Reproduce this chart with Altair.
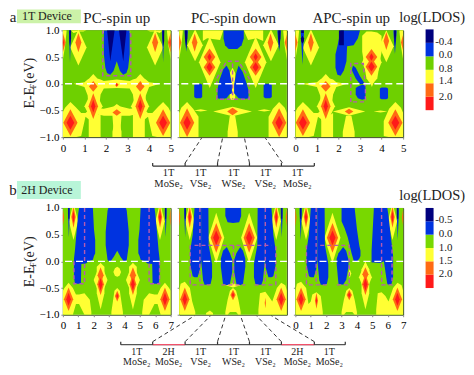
import altair as alt
import pandas as pd

SERIF = "Liberation Serif"
LEVELS = ["Y", "O", "R", "B", "N"]
LEVEL_COLORS = ["#ffff33", "#ff6a13", "#ff1a1a", "#0033e0", "#00007e"]
GREEN = "#6ed000"
GREEN2 = "#78d800"

# ---------- each panel: diamonds (level, x, y, half-width, half-height) and outlined regions
P1_D = [
 ("O",0,.77,.13,.18),("R",0,.77,.05,.08),("Y",.72,.68,.38,.34),("O",.72,.77,.14,.18),
 ("O",5,.77,.13,.18),("R",5,.77,.05,.08),("Y",4.28,.68,.38,.34),("O",4.28,.77,.14,.18),
 ("Y",1.42,-.42,.42,.34),("Y",3.58,-.42,.42,.34),
 ("O",1.41,-.05,.2,.1),("O",3.59,-.05,.2,.1),("O",1.41,-.42,.22,.24),("O",3.59,-.42,.22,.24),
 ("R",1.41,-.42,.1,.12),("R",3.59,-.42,.1,.12),("R",2.5,-.02,.04,.03),("O",2.5,-.02,.09,.04),
 ("O",2.5,-.54,.2,.06),
 ("O",.35,-.73,.33,.25),("R",.35,-.73,.18,.13),("O",4.65,-.73,.33,.25),("R",4.65,-.73,.18,.13),
]
P1_A = [
 ("Y",[(0,.45,1),(.1,.7,1),(.17,.98,1)]),
 ("Y",[(.36,1,1),(.5,.95,1),(.72,.98,1),(.95,.98,1),(1.1,1,1)]),
 ("Y",[(3.9,1,1),(4.05,.98,1),(4.28,.98,1),(4.5,.95,1),(4.64,1,1)]),
 ("Y",[(4.83,.98,1),(4.9,.7,1),(5,.45,1)]),
 ("Y",[(1.88,.95,1),(3.12,.95,1)]),
 ("Y",[(.5,0,0),(1.0,-.06,.03),(1.15,-.22,.08),(1.22,-.7,.1),(1.41,-.75,.18),(1.6,-.7,.1),(1.75,-.2,.08),(1.9,-.09,.05),(2.5,-.08,.08),(3.1,-.09,.05),(3.25,-.2,.08),(3.4,-.7,.1),(3.59,-.75,.18),(3.78,-.7,.1),(3.85,-.22,.08),(4.0,-.06,.03),(4.5,0,0)]),
 ("Y",[(0,-1,-.53),(.1,-1,-.45),(.35,-1,-.34),(.6,-1,-.44),(.85,-.98,-.55),(1.05,-.62,-.55),(1.3,-.7,-.46)]),
 ("Y",[(1.2,-1,-.55),(1.3,-1,-.62),(1.5,-1,-.62),(1.75,-1,-.55)]),
 ("Y",[(3.25,-1,-.55),(3.5,-1,-.62),(3.7,-1,-.62),(3.8,-1,-.55)]),
 ("Y",[(1.6,-.57,-.46),(1.9,-.6,-.47),(2.3,-.6,-.43),(2.37,-1,-.42),(2.5,-1,-.38),(2.65,-1,-.42),(2.72,-.6,-.43),(3.1,-.6,-.47),(3.4,-.57,-.46)]),
 ("Y",[(2.3,-1,-.9),(2.4,-1,-.7),(2.62,-1,-.7),(2.72,-1,-.9)]),
 ("Y",[(3.7,-.7,-.46),(3.95,-.62,-.55),(4.15,-.98,-.55),(4.4,-1,-.44),(4.65,-1,-.34),(4.9,-1,-.45),(5,-1,-.53)]),
 ("B",[(.28,.98,1),(.33,.4,1),(.38,.98,1)]),("N",[(.3,.8,1),(.33,.7,1),(.38,.85,1)]),
 ("B",[(4.6,.98,1),(4.65,.4,1),(4.7,.98,1)]),("N",[(4.62,.85,1),(4.65,.7,1),(4.7,.8,1)]),
 ("B",[(1.9,.55,1),(1.97,.3,1),(2.05,.2,1),(2.2,.17,1),(2.35,.24,1),(2.5,.42,1),(2.65,.24,1),(2.8,.17,1),(2.95,.2,1),(3.03,.3,1),(3.1,.55,1)]),
 ("N",[(2.05,1,1),(2.2,.42,1),(2.4,1,1)]),("N",[(2.6,1,1),(2.8,.42,1),(2.95,1,1)]),
]
P1_L = [[(1.85,1),(1.85,.15),(3.15,.15),(3.15,1)]]

P2_D = [
 ("O",0,.77,.1,.15),("Y",.74,.72,.36,.3),("O",.72,.77,.13,.17),
 ("O",5,.77,.1,.15),("Y",4.26,.72,.36,.3),("O",4.24,.77,.13,.17),
 ("Y",1.42,.4,.5,.48),("Y",3.55,.4,.5,.48),
 ("O",1.41,.5,.27,.16),("O",1.41,.31,.27,.16),("O",3.55,.5,.27,.16),("O",3.55,.31,.27,.16),
 ("R",1.41,.5,.1,.07),("R",1.41,.31,.14,.09),("R",3.55,.5,.1,.07),("R",3.55,.31,.14,.09),
 ("Y",2.48,-.52,.9,.09),("O",2.48,-.52,.25,.07),
 ("O",.37,-.73,.33,.27),("R",.37,-.73,.17,.13),("O",4.64,-.73,.33,.27),("R",4.64,-.73,.17,.13),
 ("Y",1.0,-.5,.32,.02),("Y",3.95,-.5,.32,.02),
]
P2_A = [
 ("Y",[(0,.45,1),(.1,.7,1),(.17,.98,1)]),
 ("Y",[(4.83,.98,1),(4.9,.7,1),(5,.45,1)]),
 ("Y",[(1.1,.8,1),(1.3,.85,1),(1.9,.82,1),(2.05,1,1)]),
 ("Y",[(3.0,1,1),(3.2,.82,1),(3.6,.85,1),(3.9,.8,1)]),
 ("Y",[(2.35,-.3,.2),(2.48,-.3,.3),(2.6,-.3,.2)]),
 ("Y",[(0,-1,-.55),(.1,-1,-.45),(.37,-1,-.34),(.65,-1,-.47),(.9,-1,-.62)]),
 ("Y",[(4.15,-1,-.62),(4.35,-1,-.47),(4.64,-1,-.34),(4.9,-1,-.45),(5,-1,-.55)]),
 ("Y",[(2.25,-1,-.9),(2.35,-1,-.6),(2.6,-1,-.6),(2.72,-1,-.9)]),
 ("B",[(.25,.97,1),(.33,.6,1),(.4,.97,1)]),("N",[(.27,.85,1),(.33,.65,1),(.38,.85,1)]),
 ("B",[(4.56,.97,1),(4.64,.6,1),(4.72,.97,1)]),("N",[(4.6,.85,1),(4.64,.65,1),(4.7,.85,1)]),
 ("B",[(2.06,.85,1),(2.13,.72,1),(2.3,.65,1),(2.7,.65,1),(2.9,.72,1),(3.0,.85,1)]),
 ("B",[(1.78,-.27,-.1),(1.88,-.28,.08),(2.05,-.28,.27),(2.2,-.27,.34),(2.33,-.2,.25),(2.45,-.18,0)]),
 ("B",[(2.55,-.18,-.02),(2.65,-.22,.2),(2.76,-.27,.34),(2.95,-.28,.22),(3.12,-.28,.02),(3.22,-.27,-.12)]),
 ("B",[(.7,-.25,-.02),(.78,-.27,.0),(1.0,-.27,.0),(1.07,-.25,-.02)]),
 ("B",[(3.92,-.25,-.02),(4.0,-.27,.0),(4.22,-.27,.0),(4.3,-.25,-.02)]),
]
P2_L = [[(1.75,.1),(2.2,.42),(2.75,.42),(3.25,.1),(3.25,-.29),(1.75,-.29),(1.75,.1)],[(2.48,.38),(2.48,-.29)]]

P3_D = [
 ("O",0,.77,.1,.15),("Y",.72,.68,.38,.34),("O",.72,.77,.13,.18),
 ("O",5,.77,.1,.15),("Y",4.22,.7,.34,.3),("O",4.22,.8,.13,.17),
 ("Y",3.55,.4,.45,.46),("O",3.53,.5,.27,.15),("O",3.53,.32,.27,.17),("R",3.53,.5,.1,.07),("R",3.53,.32,.15,.09),
 ("O",1.41,-.05,.22,.1),("O",1.41,-.42,.22,.24),("R",1.41,-.42,.1,.12),("Y",1.42,-.42,.42,.34),
 ("O",2.49,-.52,.2,.05),("Y",2.49,-.52,.75,.08),
 ("O",.35,-.73,.33,.25),("R",.35,-.73,.18,.13),("O",4.64,-.73,.33,.25),("R",4.64,-.73,.18,.13),
 ("Y",3.95,-.52,.32,.02),
]
P3_A = [
 ("Y",[(0,.45,1),(.1,.7,1),(.17,.98,1)]),("Y",[(4.83,.98,1),(4.9,.7,1),(5,.45,1)]),
 ("Y",[(3.1,.6,.9),(3.3,.1,.98),(3.53,-.03,.98),(3.8,.1,.96),(4.0,.6,.9)]),
 ("Y",[(.3,0,0),(1.0,-.06,.03),(1.15,-.22,.08),(1.22,-.7,.1),(1.41,-.75,.18),(1.6,-.7,.1),(1.75,-.2,.08),(1.9,-.06,.03),(2.4,0,0)]),
 ("Y",[(0,-1,-.53),(.1,-1,-.45),(.35,-1,-.34),(.6,-1,-.44),(.85,-.98,-.55),(1.05,-.62,-.55),(1.3,-.7,-.46)]),
 ("Y",[(1.2,-1,-.55),(1.3,-1,-.62),(1.5,-1,-.62),(1.75,-1,-.55)]),
 ("Y",[(2.2,-1,-.9),(2.35,-1,-.6),(2.6,-1,-.6),(2.75,-1,-.9)]),
 ("Y",[(4.1,-.98,-.7),(4.35,-1,-.47),(4.64,-1,-.34),(4.9,-1,-.45),(5,-1,-.55)]),
 ("B",[(.25,.97,1),(.33,.35,1),(.4,.97,1)]),("N",[(.26,.8,.85),(.33,.75,.9),(.4,.8,.85)]),("N",[(.27,.95,1),(.39,.95,1)]),
 ("B",[(4.55,.97,1),(4.62,.55,1),(4.7,.97,1)]),("N",[(4.58,.9,1),(4.62,.7,1),(4.67,.9,1)]),
 ("B",[(1.86,.3,.55),(1.95,.17,.7),(2.1,.15,1),(2.25,.25,1),(2.37,.42,1),(2.4,.7,1),(2.7,.72,1),(2.9,.85,1),(3.0,1,1)]),
 ("N",[(2.02,.72,1),(2.25,.72,1)]),
 ("B",[(2.63,.25,.28),(2.68,.2,.34),(2.8,.1,.3),(3.0,-.01,.14),(3.19,.0,.02)]),
 ("B",[(2.8,-.2,-.08),(2.9,-.27,-.05),(3.1,-.3,-.02),(3.25,-.28,-.03)]),
 ("B",[(3.92,-.27,-.09),(4.0,-.29,-.07),(4.22,-.29,-.07),(4.3,-.27,-.09)]),
]
P3_L = [[(2.57,-.34),(2.57,.38),(3.15,.38),(3.25,-.1),(3.25,-.34),(2.57,-.34)]]

P4_D = [
 ("O",0,.82,.08,.16),("Y",.69,.75,.3,.35),("O",.69,.83,.14,.2),("R",.69,.83,.07,.12),
 ("O",7,.82,.08,.16),("Y",6.31,.75,.3,.35),("O",6.31,.83,.14,.2),("R",6.31,.83,.07,.12),
 ("O",.37,-.71,.3,.22),("R",.37,-.71,.15,.12),("O",6.63,-.71,.3,.22),("R",6.63,-.71,.15,.12),
 ("O",2.45,-.26,.2,.15),("O",2.45,-.43,.22,.2),("R",2.45,-.43,.12,.12),
 ("O",4.55,-.26,.2,.15),("O",4.55,-.43,.22,.2),("R",4.55,-.43,.12,.12),
 ("Y",2.45,-.35,.45,.33),("Y",4.55,-.35,.45,.33),
 ("O",3.53,-.65,.15,.1),("R",3.53,-.65,.06,.05),
]
P4_A = [
 ("Y",[(2.2,-.6,-.1),(2.45,-.9,-.03),(2.7,-.6,-.1)]),
 ("Y",[(4.3,-.6,-.1),(4.55,-.9,-.03),(4.8,-.6,-.1)]),
 ("Y",[(3.28,-.2,-.2),(3.38,-.27,-.13),(3.53,-.29,-.1),(3.68,-.27,-.13),(3.78,-.2,-.2)]),
 ("Y",[(3.15,-1,-.95),(3.25,-1,-.75),(3.35,-1,-.55),(3.53,-1,-.5),(3.7,-1,-.55),(3.8,-1,-.75),(3.9,-1,-.95)]),
 ("Y",[(0,-1,-.55),(.1,-1,-.5),(.37,-1,-.4),(.65,-1,-.5),(.85,-.8,-.62),(1.05,-.8,-.62),(1.4,-1,-.6),(1.75,-1,-.72),(1.85,-1,-.95)]),
 ("Y",[(5.15,-1,-.95),(5.25,-1,-.72),(5.6,-1,-.6),(5.95,-.8,-.62),(6.15,-.8,-.62),(6.35,-1,-.5),(6.63,-1,-.4),(6.9,-1,-.5),(7,-1,-.55)]),
 ("B",[(.33,.9,1),(.39,.45,1),(.45,.9,1)]),("B",[(6.62,.9,1),(6.68,.45,1),(6.74,.9,1)]),
 ("N",[(.36,.8,1),(.42,.8,1)]),("N",[(6.65,.8,1),(6.71,.8,1)]),
 ("B",[(.72,-.3,.05),(.78,-.42,.2),(.87,-.42,.5),(1.0,-.42,.9),(1.05,-.42,1),(1.17,-.42,1),(1.2,-.05,1),(1.5,-.04,1),(1.68,.0,1),(1.95,.03,1),(2.02,.1,.6),(2.1,.15,.4)]),
 ("B",[(2.78,.3,.55),(2.9,.03,.95),(2.95,.01,1),(3.1,.0,1),(3.3,.08,1),(3.53,.2,1),(3.75,.08,1),(3.95,.0,1),(4.1,.01,1),(4.15,.03,.95),(4.28,.3,.55)]),
 ("B",[(4.9,.15,.4),(4.98,.1,.6),(5.05,.03,1),(5.32,.0,1),(5.5,-.04,1),(5.8,-.05,1),(5.83,-.42,1),(5.95,-.42,1),(6.0,-.42,.9),(6.13,-.42,.5),(6.22,-.42,.2),(6.28,-.3,.05)]),
]
P4_L = [[(.72,0),(.72,-.42),(1.41,-.42),(1.41,1)],[(5.6,1),(5.6,-.42),(6.28,-.42),(6.28,0)]]

P5_D = [
 ("O",0,.82,.08,.16),("Y",.69,.75,.3,.35),("O",.69,.83,.14,.2),("R",.69,.83,.07,.12),
 ("O",7,.82,.08,.16),("Y",6.31,.75,.3,.35),("O",6.31,.83,.14,.2),("R",6.31,.83,.07,.12),
 ("Y",2.41,.44,.52,.47),("O",2.41,.44,.36,.28),("R",2.41,.44,.2,.14),
 ("Y",4.55,.44,.52,.47),("O",4.55,.44,.36,.28),("R",4.55,.44,.2,.14),
 ("O",.37,-.71,.3,.22),("R",.37,-.71,.15,.12),("O",6.63,-.71,.3,.22),("R",6.63,-.71,.15,.12),
 ("O",3.5,-.63,.17,.1),("R",3.5,-.63,.08,.05),("Y",3.5,-.45,.5,.04),
 ("O",5.6,-.78,.04,.1),
]
P5_A = [
 ("Y",[(0,-1,-.55),(.1,-1,-.42),(.37,-1,-.38),(.7,-1,-.5),(.85,-1,-.75),(1.05,-1,-.95)]),
 ("Y",[(1.75,-1,-.97),(2.0,-1,-.92),(2.2,-1,-.97)]),
 ("Y",[(3.0,-1,-.95),(3.15,-1,-.72),(3.3,-.95,-.55),(3.5,-.95,-.5),(3.7,-.95,-.55),(3.85,-1,-.72),(4.0,-1,-.95)]),
 ("Y",[(5.15,-1,-.9),(5.25,-1,-.6),(5.6,-1,-.57),(5.85,-1,-.67),(6.05,-1,-.75),(6.35,-1,-.5),(6.63,-1,-.4),(6.9,-1,-.45),(7,-1,-.55)]),
 ("B",[(.33,.9,1),(.39,.45,1),(.45,.9,1)]),("B",[(6.6,.9,1),(6.67,.45,1),(6.73,.9,1)]),
 ("N",[(.36,.8,1),(.42,.8,1)]),("N",[(6.64,.8,1),(6.7,.8,1)]),
 ("B",[(.72,-.05,.2),(.88,-.28,.5),(1.0,-.3,1),(1.2,-.3,1),(1.35,-.15,1),(1.43,.02,1)]),
 ("B",[(1.43,.02,1),(1.55,-.35,1),(1.65,-.44,1),(1.9,-.44,1),(1.92,-.44,.3),(2.05,-.42,.1),(2.14,-.3,-.05)]),
 ("B",[(4.86,-.3,-.05),(4.95,-.42,.1),(5.08,-.44,.3),(5.1,-.44,1),(5.35,-.44,1),(5.45,-.35,1),(5.57,.02,1)]),
 ("B",[(5.57,.02,1),(5.65,-.15,1),(5.8,-.3,1),(6.0,-.3,1),(6.12,-.28,.5),(6.28,-.05,.2)]),
 ("B",[(3.0,.85,1),(3.15,.73,1),(3.5,.72,1),(3.9,.73,1),(4.03,.85,1)]),
 ("B",[(2.71,-.1,.05),(2.85,-.42,.2),(3.1,-.45,.27),(3.3,-.42,.15),(3.45,-.2,.03)]),
 ("B",[(3.58,-.2,.03),(3.72,-.42,.15),(3.97,-.45,.27),(4.15,-.42,.2),(4.3,-.1,.05)]),
]
P5_L = [[(.72,.3),(.72,-.44),(2.1,-.44)],[(1.35,1),(1.35,-.44)],[(2.75,-.44),(4.3,-.44)],[(3.53,.3),(3.53,-.44)],
        [(1.0,.3),(2.0,.3),(5.0,.3),(6.0,.3)],[(5.6,1),(5.6,-.44)],[(4.9,-.44),(6.28,-.44),(6.28,.3)]]

P6_D = [
 ("O",0,.82,.08,.16),("Y",.69,.75,.3,.35),("O",.69,.83,.14,.2),("R",.69,.83,.07,.12),
 ("O",7,.82,.08,.16),("Y",6.31,.75,.3,.35),("O",6.31,.83,.14,.2),("R",6.31,.83,.07,.12),
 ("Y",2.41,.44,.52,.47),("O",2.41,.44,.36,.28),("R",2.41,.44,.2,.14),
 ("O",.37,-.71,.3,.22),("R",.37,-.71,.15,.12),("O",6.63,-.71,.3,.22),("R",6.63,-.71,.15,.12),
 ("O",1.37,-.74,.1,.15),("R",1.37,-.74,.04,.08),
 ("O",3.5,-.63,.17,.1),("R",3.5,-.63,.08,.05),
 ("Y",4.55,-.3,.42,.3),("O",4.55,-.24,.2,.13),("O",4.55,-.43,.22,.2),("R",4.55,-.43,.12,.12),
 ("Y",3.53,-.23,.1,.08),
]
P6_A = [
 ("Y",[(0,-1,-.55),(.1,-1,-.42),(.37,-1,-.38),(.7,-1,-.5),(.85,-1,-.8),(1.0,-1,-.75),(1.1,-1,-.62),(1.37,-1,-.58),(1.65,-1,-.65),(1.78,-1,-.95)]),
 ("Y",[(3.0,-1,-.95),(3.15,-1,-.72),(3.3,-.95,-.55),(3.5,-.95,-.5),(3.7,-.95,-.55),(3.85,-1,-.72),(4.0,-1,-.95)]),
 ("Y",[(4.3,-.6,-.15),(4.55,-.9,-.02),(4.8,-.6,-.15)]),
 ("Y",[(5.25,-1,-.9),(5.35,-1,-.6),(5.6,-1,-.58),(5.85,-1,-.65),(6.05,-1,-.75),(6.35,-1,-.5),(6.63,-1,-.4),(6.9,-1,-.45),(7,-1,-.55)]),
 ("B",[(.27,.9,1),(.35,.4,1),(.42,.9,1)]),("B",[(6.58,.9,1),(6.65,.4,1),(6.72,.9,1)]),
 ("N",[(.32,.8,1),(.38,.8,1)]),("N",[(6.62,.8,1),(6.68,.8,1)]),
 ("B",[(.72,-.05,.2),(.88,-.28,.5),(1.0,-.3,1),(1.2,-.3,1),(1.35,-.15,1),(1.43,.02,1)]),
 ("B",[(1.43,.02,1),(1.55,-.35,1),(1.65,-.44,1),(1.9,-.44,1),(1.92,-.44,.3),(2.05,-.42,.1),(2.14,-.3,-.05)]),
 ("B",[(3.0,.75,1),(3.2,.62,1),(3.4,.45,1),(3.65,.15,1),(3.8,.0,1),(3.85,.0,1),(4.0,.0,.6),(4.15,.05,.3),(4.23,.1,.2)]),
 ("B",[(2.68,-.05,.05),(2.8,-.42,.15),(3.1,-.44,.27),(3.3,-.35,.2),(3.45,-.1,.03)]),
 ("B",[(4.95,-.02,.2),(5.1,-.02,1),(5.5,-.03,1),(5.75,.0,1),(5.9,-.3,1),(5.97,-.42,1),(6.03,-.44,.9),(6.25,-.42,.35),(6.35,-.3,.1)]),
]
P6_L = [[(.72,.3),(.72,-.44),(2.1,-.44)],[(1.35,1),(1.35,-.44)],[(2.7,-.44),(3.5,-.44),(3.5,.3),(1.5,.3)],[(5.6,1),(5.6,-.44),(6.28,-.44),(6.28,.3)]]

# ---------- text and schematic, in page coordinates
PAGE_TEXT = [
 ("a",12,16,15),("1T Device",46,15,12),("b",12,189,15),("2H Device",46,189,12),
 ("PC-spin up",116,17,15),("PC-spin down",233,17,15),("APC-spin up",351,17,15),
 ("log(LDOS)",432,17,14.5),("log(LDOS)",432,195,14.5),
 ("B1",224,54,11),("B2",195,293,11),("B3",210,293,11),
 ("1T",168,172,10.5),("MoSe\u2082",168,183,10.5),("1T",200,172,10.5),("VSe\u2082",200,183,10.5),
 ("1T",233,172,10.5),("WSe\u2082",233,183,10.5),("1T",265,172,10.5),("VSe\u2082",265,183,10.5),
 ("1T",297,172,10.5),("MoSe\u2082",297,183,10.5),
 ("1T",136,351,10),("MoSe\u2082",136,361.5,10),("2H",168,351,10),("MoSe\u2082",168,361.5,10),
 ("1T",200,351,10),("VSe\u2082",200,361.5,10),("1T",233,351,10),("WSe\u2082",233,361.5,10),
 ("1T",265,351,10),("VSe\u2082",265,361.5,10),("2H",297,351,10),("MoSe\u2082",297,361.5,10),
 ("1T",329,351,10),("MoSe\u2082",329,361.5,10),
]
ROT_TEXT = [("E-E  (eV)",29,82,14),("E-E  (eV)",29,261,14),("F",33,85,8),("F",33,264,8)]
BOXES = [(16,80,8,22,"#ccf2a8"),(16,80,180,198,"#b8f5d8")]
SOLID = [
 (152,314,165,165,"#333333"),(152,152,162,165,"#333333"),(184.5,184.5,162,165,"#333333"),(217,217,162,165,"#333333"),
 (249,249,162,165,"#333333"),(281,281,162,165,"#333333"),(314,314,162,165,"#333333"),
 (120,345,344,344,"#555555"),(152,184.5,344,344,"#f0506a"),(281,314,344,344,"#f0506a"),
 (120,120,341,344,"#333333"),(152,152,341,344,"#333333"),(184.5,184.5,341,344,"#333333"),(217,217,341,344,"#333333"),
 (249,249,341,344,"#333333"),(281,281,341,344,"#333333"),(314,314,341,344,"#333333"),(345,345,341,344,"#333333"),
]
DASHED = [
 (184.5,201,162,137),(217,222,162,137),(249,244,162,137),(282,265,162,137),
 (152,194,341,315),(184.5,210,341,315),(217,225,341,315),(249,240,341,315),(281,256,341,315),(314,271,341,315),
]

BAND_COLORS = ["#ff1a1a", "#ff6a13", "#ffff33", GREEN, "#0033e0", "#00007e"]
TOP_BAR_LABELS = ["2.0","1.4","0.8","0.0","-0.4"]
TOP_BAR_POS = [.96,2.15,3.03,4.07,5.04]
BOT_BAR_LABELS = ["2.0","1.5","1.0","0.0","-0.5"]
BOT_BAR_POS = [1.05,2.02,3.0,4.05,5.1]

W, H = 108, 107
X0, Y0 = 62, 29

def to_frame(diamonds, areas):
    rows = []
    n = 0
    for lev, cx, cy, hw, hh in diamonds:
        n += 1
        rows += [(lev, n, cx-hw, cy, cy, 0), (lev, n, cx, cy-hh, cy+hh, 1), (lev, n, cx+hw, cy, cy, 2)]
    for lev, pts in areas:
        n += 1
        rows += [(lev, n, p[0], p[1], p[2], i) for i, p in enumerate(pts)]
    df = pd.DataFrame(rows, columns=["level", "id", "x", "lo", "hi", "i"])
    df["rank"] = df["level"].map({k: i for i, k in enumerate(LEVELS)})
    return df.sort_values(["rank", "id", "i"], kind="stable")

def panel(diamonds, areas, lines, xmax, ylabels, xlabels, green, page=False):
    xs = alt.Scale(domain=[0, xmax], nice=False, zero=False)
    ys = alt.Scale(domain=[-1, 1], nice=False, zero=False)
    xax = alt.Axis(values=list(range(xmax+1)), labels=xlabels, ticks=xlabels, title=None, grid=False, domain=False,
                   labelAngle=0, tickSize=2, labelPadding=3, labelFontSize=11, labelFont=SERIF, labelColor="black",
                   labelFlush=False, labelOverlap=False, labelBound=False, labelSeparation=0, format="d")
    yax = alt.Axis(values=[-1,-.5,0,.5,1], labels=ylabels, format=".1f", title=None, grid=False, domain=False,
                   tickSize=2, labelPadding=2, labelFontSize=11, labelFont=SERIF, labelColor="black",
                   labelFlush=False, labelOverlap=False, labelBound=False, labelSeparation=0)
    df = to_frame(diamonds, areas)
    X = lambda f: alt.X(f, scale=xs, axis=xax)
    Y = lambda f: alt.Y(f, scale=ys, axis=yax)
    bg = alt.Chart(pd.DataFrame({"x":[0],"x2":[xmax],"y":[-1],"y2":[1]})).mark_rect(color=green).encode(
        x=X("x:Q"), x2="x2:Q", y=Y("y:Q"), y2="y2:Q")
    area = alt.Chart(df).mark_area(clip=True, opacity=1).encode(
        x=X("x:Q"), y=Y("lo:Q"), y2="hi:Q",
        color=alt.Color("level:N", scale=alt.Scale(domain=LEVELS, range=LEVEL_COLORS), legend=None),
        detail="id:N")
    lrows = [(k, i, x, y) for k, path in enumerate(lines) for i, (x, y) in enumerate(path)]
    ldf = pd.DataFrame(lrows, columns=["k", "i", "x", "y"])
    dash = alt.Chart(ldf).mark_line(color="#b65ab0", strokeWidth=1.4, strokeDash=[4,3], clip=True).encode(
        x=X("x:Q"), y=Y("y:Q"), detail="k:N", order="i:Q")
    zero = alt.Chart(pd.DataFrame({"x":[.02*xmax],"x2":[xmax],"y":[0]})).mark_rule(color="white", strokeWidth=1.3, strokeDash=[7,4]).encode(
        x=X("x:Q"), x2="x2:Q", y=Y("y:Q"))
    base = alt.layer(bg, area, dash, zero)
    if page:
        base = alt.layer(base, *page_layers()).resolve_scale(x="independent", y="independent", color="independent", size="independent")
    return base.properties(width=W, height=H)

def page_layers():
    tdf = pd.DataFrame(PAGE_TEXT, columns=["t","x","y","s"]); tdf["x"] -= X0; tdf["y"] -= Y0
    rdf = pd.DataFrame(ROT_TEXT, columns=["t","x","y","s"]); rdf["x"] -= X0; rdf["y"] -= Y0
    bdf = pd.DataFrame(BOXES, columns=["x","x2","y","y2","c"])
    sdf = pd.DataFrame(SOLID, columns=["x","x2","y","y2","c"])
    ddf = pd.DataFrame(DASHED, columns=["x","x2","y","y2"])
    for d in (bdf, sdf, ddf):
        d["x"] -= X0; d["x2"] -= X0; d["y"] -= Y0; d["y2"] -= Y0
    px = alt.X("x:Q", scale=None, axis=None); py = alt.Y("y:Q", scale=None, axis=None)
    cc = alt.Color("c:N", scale=None, legend=None)
    ss = alt.Size("s:Q", scale=None, legend=None)
    return [
        alt.Chart(bdf).mark_rect().encode(x=px, x2="x2:Q", y=py, y2="y2:Q", color=cc),
        alt.Chart(sdf).mark_rule(strokeWidth=1.2).encode(x=px, x2="x2:Q", y=py, y2="y2:Q", color=cc),
        alt.Chart(ddf).mark_rule(strokeWidth=1, strokeDash=[4,3], color="#333333").encode(x=px, x2="x2:Q", y=py, y2="y2:Q"),
        alt.Chart(tdf).mark_text(font=SERIF, color="#222222", baseline="middle", align="center").encode(
            x=px, y=py, text="t:N", size=ss),
        alt.Chart(rdf).mark_text(font=SERIF, color="#222222", baseline="middle", align="center", angle=270).encode(
            x=px, y=py, text="t:N", size=ss),
    ]

def colorbar(labels, pos, ymin, ymax, bands):
    ys = alt.Scale(domain=[ymin, ymax], nice=False, zero=False)
    bdf = pd.DataFrame({"a": list(range(6)), "b": list(range(1, 7)), "c": bands})
    bar = alt.Chart(bdf).mark_rect().encode(
        x=alt.value(14), x2=alt.value(22), y=alt.Y("a:Q", scale=ys, axis=None), y2="b:Q", color=alt.Color("c:N", scale=None, legend=None))
    txt = alt.Chart(pd.DataFrame({"t": labels, "p": pos})).mark_text(font=SERIF, fontSize=11, color="#222222", align="right", baseline="middle").encode(
        x=alt.value(41), y=alt.Y("p:Q", scale=ys, axis=None), text="t:N")
    return alt.layer(bar, txt).properties(width=31, height=H, view=alt.ViewConfig(stroke=None))

p1 = panel(P1_D, P1_A, P1_L, 5, True, True, GREEN, page=True)
p2 = panel(P2_D, P2_A, P2_L, 5, False, False, GREEN)
p3 = panel(P3_D, P3_A, P3_L, 5, False, True, GREEN)
c1 = colorbar(TOP_BAR_LABELS, TOP_BAR_POS, -2, 5.93, BAND_COLORS)
p4 = panel(P4_D, P4_A, P4_L, 7, True, True, GREEN2)
p5 = panel(P5_D, P5_A, P5_L, 7, False, False, GREEN2)
p6 = panel(P6_D, P6_A, P6_L, 7, False, True, GREEN2)
c2 = colorbar(BOT_BAR_LABELS, BOT_BAR_POS, -2, 6, BAND_COLORS[:3] + [GREEN2] + BAND_COLORS[4:])

chart = alt.concat(p1, p2, p3, c1, p4, p5, p6, c2, columns=4, spacing={"row": 71, "column": 8.5}, bounds="flush"
    ).configure_view(stroke="#3c4a1e", strokeWidth=1
    ).properties(padding=0, background="white")
chart.save("out.html", embed_options={"renderer": "svg", "actions": False})
